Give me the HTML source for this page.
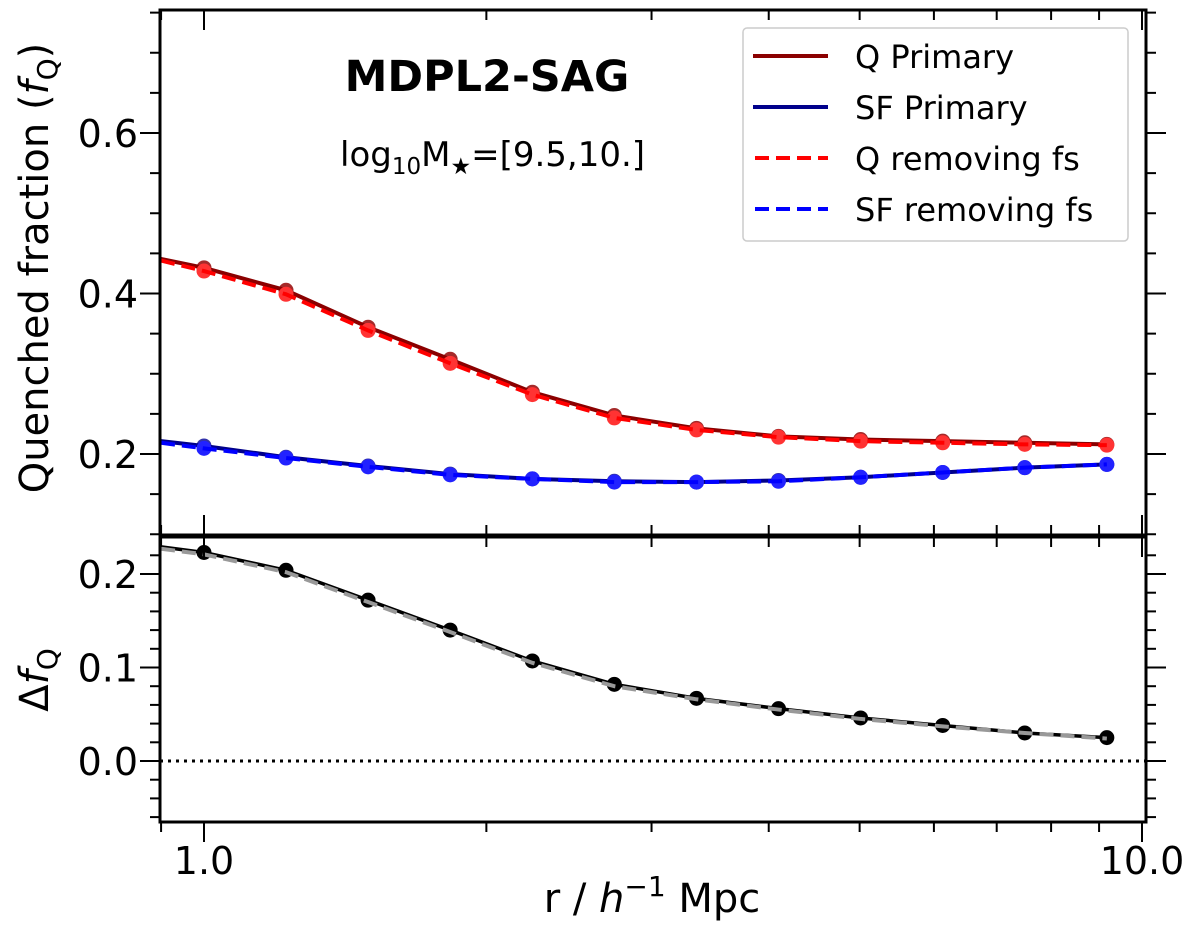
<!DOCTYPE html>
<html><head><meta charset="utf-8"><style>
html,body{margin:0;padding:0;background:#fff;width:1200px;height:931px;overflow:hidden}
svg{display:block;font-family:"DejaVu Sans","Liberation Sans",sans-serif}
</style></head><body>
<svg id="chart" width="1200" height="931" viewBox="0 0 1200 931">
<g id="topPanel"></g>
<g id="botPanel"></g>
<g id="labels">
<text x="48" y="268" font-size="40" text-anchor="middle" transform="rotate(-90 48 268)">Quenched fraction (<tspan font-style="italic">f</tspan><tspan font-size="28" dy="9">Q</tspan><tspan dy="-9">)</tspan></text>
<text x="48" y="680" font-size="40" text-anchor="middle" transform="rotate(-90 48 680)">Δ<tspan font-style="italic">f</tspan><tspan font-size="28" dy="9">Q</tspan></text>
<text x="652" y="912" font-size="40" text-anchor="middle">r / <tspan font-style="italic">h</tspan><tspan font-size="28" dy="-16">−1</tspan><tspan dy="16"> Mpc</tspan></text>
<text x="487" y="91" font-size="43" font-weight="bold" text-anchor="middle">MDPL2-SAG</text>
<text x="340" y="166" font-size="34">log<tspan font-size="23" dy="8">10</tspan><tspan dy="-8">M</tspan><tspan font-size="23" dy="8">★</tspan><tspan dy="-8">=[9.5,10.]</tspan></text>
</g>
<g id="legend">
<rect x="743" y="28" width="385" height="213" rx="4" fill="#fff" stroke="#ccc" stroke-width="1.5"/>
<g><line x1="753" y1="56" x2="828" y2="56" stroke="#8b0000" stroke-width="4"/><text x="855" y="68" font-size="32">Q Primary</text></g>
<g><line x1="753" y1="107" x2="828" y2="107" stroke="#00008b" stroke-width="4"/><text x="855" y="119" font-size="32">SF Primary</text></g>
<g><line x1="755" y1="158" x2="828" y2="158" stroke="#ff0000" stroke-width="4" stroke-dasharray="14,7"/><text x="855" y="170" font-size="32">Q removing fs</text></g>
<g><line x1="755" y1="209" x2="828" y2="209" stroke="#0000ff" stroke-width="4" stroke-dasharray="14,7"/><text x="855" y="221" font-size="32">SF removing fs</text></g>
</g>
</svg>
<script>
const radii=[1.0,1.223,1.496,1.830,2.239,2.738,3.350,4.097,5.012,6.131,7.499,9.173];
const qPrimary=[0.432,0.404,0.358,0.318,0.277,0.248,0.232,0.222,0.218,0.216,0.214,0.212];
const qRemoving=[0.428,0.399,0.354,0.313,0.274,0.245,0.230,0.221,0.216,0.214,0.212,0.211];
const sfPrimary=[0.210,0.196,0.185,0.175,0.169,0.166,0.165,0.167,0.171,0.177,0.183,0.187];
const sfRemoving=[0.207,0.195,0.184,0.174,0.169,0.165,0.165,0.166,0.171,0.177,0.183,0.187];
const deltaPrimary=[0.223,0.204,0.172,0.140,0.107,0.082,0.067,0.056,0.046,0.038,0.030,0.025];
const deltaRemoving=[0.221,0.202,0.170,0.138,0.105,0.080,0.066,0.055,0.045,0.037,0.030,0.024];
const edgeR=0.9;
const qEdge=0.443, qrEdge=0.441, sfEdge=0.216, sfrEdge=0.214, dEdge=0.229, drEdge=0.227;
const topTicks=[0.2,0.4,0.6];
const botTicks=[0.0,0.1,0.2];
const xTickLabels=["1.0","10.0"];

const NS="http://www.w3.org/2000/svg";
const L=160,R=1146;
const xs=v=>204+938*Math.log10(v);
const yT=v=>454-(v-0.2)*802.5;
const yB=v=>761-v*935;
function mk(p,tag,at){const e=document.createElementNS(NS,tag);for(const k in at)e.setAttribute(k,at[k]);p.appendChild(e);return e;}
const topG=document.getElementById('topPanel'), botG=document.getElementById('botPanel');

function series(g,xv,yv,yf,e0,color,dash,name,w){
  let d="M"+xs(edgeR)+","+yf(e0);
  xv.forEach((x,i)=>d+=" L"+xs(x)+","+yf(yv[i]));
  const p=mk(g,'path',{d:d,fill:'none',stroke:color,'stroke-width':w||4});
  if(dash)p.setAttribute('stroke-dasharray',dash);
  
  
}
function points(g,xv,yv,yf,color,name){
  xv.forEach((x,i)=>{
    const c=mk(g,'circle',{cx:xs(x),cy:yf(yv[i]),r:7.5,fill:color});
    
    
  });
}
const cp1=mk(topG,'clipPath',{id:'c1'});mk(cp1,'rect',{x:L,y:10,width:R-L,height:525});
const tg=mk(topG,'g',{'clip-path':'url(#c1)'});
points(tg,radii,qPrimary,yT,'#a52a2a','q-primary');
series(tg,radii,qPrimary,yT,qEdge,'#8b0000',null,'q-primary');
points(tg,radii,qRemoving,yT,'#ff3333','q-removing');
series(tg,radii,qRemoving,yT,qrEdge,'#ff0000','14,7','q-removing');
points(tg,radii,sfPrimary,yT,'#3333aa','sf-primary');
series(tg,radii,sfPrimary,yT,sfEdge,'#00008b',null,'sf-primary');
points(tg,radii,sfRemoving,yT,'#2222ff','sf-removing');
series(tg,radii,sfRemoving,yT,sfrEdge,'#0000ff','14,7','sf-removing');
const cp2=mk(botG,'clipPath',{id:'c2'});mk(cp2,'rect',{x:L,y:537,width:R-L,height:285});
const bg=mk(botG,'g',{'clip-path':'url(#c2)'});
const zl=mk(bg,'line',{x1:L,x2:R,y1:yB(0),y2:yB(0),stroke:'#000','stroke-width':3,'stroke-dasharray':'3,5'});


points(bg,radii,deltaPrimary,yB,'#000','delta');
series(bg,radii,deltaPrimary,yB,dEdge,'#000',null,'delta-primary',3.5);
series(bg,radii,deltaRemoving,yB,drEdge,'#999','14,7','delta-removing',4);

const f1=mk(topG,'rect',{x:L,y:10,width:R-L,height:525,fill:'none',stroke:'#000','stroke-width':3});


const f2=mk(botG,'rect',{x:L,y:537,width:R-L,height:285,fill:'none',stroke:'#000','stroke-width':3});


function tk(g,x1,y1,x2,y2){mk(g,'line',{x1:x1,y1:y1,x2:x2,y2:y2,stroke:'#000','stroke-width':2});}
for(let i=2;i<=15;i++){const v=i*0.05;const y=yT(v);const maj=topTicks.some(t=>Math.abs(t-v)<1e-6);const len=maj?20:10;tk(topG,L-len,y,L,y);tk(topG,R,y,R+len,y);}
topTicks.forEach(v=>{
  const t=mk(topG,'text',{x:L-22,y:yT(v)+14,'font-size':38,'text-anchor':'end'});
  t.textContent=v.toFixed(1);
  
  
});
for(let i=-3;i<=12;i++){const v=i*0.02;const y=yB(v);if(y<537||y>822)continue;const maj=Math.abs(v*10-Math.round(v*10))<1e-6;const len=maj?20:10;tk(botG,L-len,y,L,y);tk(botG,R,y,R+len,y);}
botTicks.forEach(v=>{
  const t=mk(botG,'text',{x:L-22,y:yB(v)+14,'font-size':38,'text-anchor':'end'});
  t.textContent=v.toFixed(1);
  
  
});
const minors=[0.9,2,3,4,5,6,7,8,9];
minors.forEach(m=>{const x=xs(m);tk(topG,x,535,x,525);tk(topG,x,10,x,20);tk(botG,x,822,x,832);tk(botG,x,537,x,547);});
[1,10].forEach(m=>{const x=xs(m);tk(topG,x,535,x,515);tk(topG,x,10,x,30);tk(botG,x,822,x,842);tk(botG,x,537,x,557);});
[1,10].forEach((m,i)=>{
  const t=mk(botG,'text',{x:xs(m),y:874,'font-size':38,'text-anchor':'middle'});
  t.textContent=xTickLabels[i];
  
  
});
</script>
</body></html>
